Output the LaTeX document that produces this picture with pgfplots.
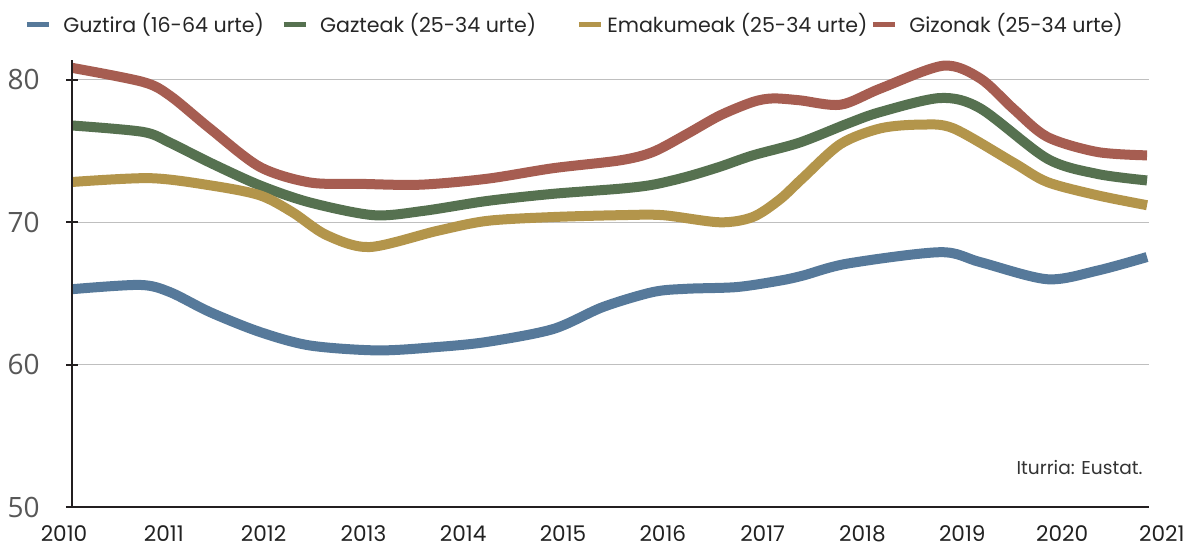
\documentclass[border=0pt]{standalone}
\usepackage{fontspec}
\setmainfont{Poppins}
\newfontfamily\osans{Open Sans}
\usepackage{pgfplots}
\pgfplotsset{compat=1.18}
\definecolor{cblue}{RGB}{86,121,154}
\definecolor{cgreen}{RGB}{86,113,80}
\definecolor{cgold}{RGB}{179,149,75}
\definecolor{cred}{RGB}{166,93,81}
\definecolor{axisc}{RGB}{35,31,32}
\begin{document}
\begin{tikzpicture}
\begin{axis}[
 at={(0,0)}, anchor=south west,
 scale only axis, width=549pt, height=223.5pt,
 xmin=2010, xmax=2021, ymin=50, ymax=81.4,
 axis line style={draw=none},
 major tick length=0pt,
 xtick={2010,...,2021}, ytick={50,60,70,80},
 /pgf/number format/assume math mode=true,
 /pgf/number format/1000 sep={},
 xticklabel style={font=\fontsize{10.8}{12}\selectfont, text=black!87, anchor=north, inner sep=0pt, yshift=-9pt},
 yticklabel style={font=\osans\fontsize{14}{16}\selectfont, text=black!66, anchor=east, inner sep=0pt, xshift=-12pt},
 clip=false,
 legend columns=4,
 legend style={draw=none, fill=none, at={(-0.0364,1.0805)}, anchor=west, inner sep=0pt,
   font=\fontsize{10.3}{12}\selectfont, text=black!85,
   nodes={inner xsep=0pt, inner ysep=1pt},
   /tikz/every odd column/.append style={column sep=6pt},
   /tikz/every even column/.append style={column sep=8.5pt}},
 legend image code/.code={\draw[line width=2.5pt] (0pt,0pt) -- (11pt,0pt);},
]
% grid lines
\addplot[forget plot, black!25, line width=0.5pt] coordinates {(2010.08,60) (2020.87,60)};
\addplot[forget plot, black!25, line width=0.5pt] coordinates {(2010.08,70) (2020.87,70)};
\addplot[forget plot, black!25, line width=0.5pt] coordinates {(2010.08,80) (2020.87,80)};

\addplot[cblue, line width=5pt, smooth] coordinates {
(2010.08,65.3) (2010.76,65.6) (2011.06,65.1) (2011.46,63.7) (2011.96,62.3)
(2012.46,61.35) (2013.14,61.0) (2013.74,61.24) (2014.24,61.6) (2014.90,62.5)
(2015.40,64.05) (2015.90,65.1) (2016.24,65.33) (2016.74,65.45) (2017.17,65.9)
(2017.40,66.25) (2017.85,67.1) (2018.78,67.9) (2019.18,67.2) (2019.85,66.0)
(2020.35,66.6) (2020.85,67.56)};
\addlegendentry{Guztira (16-64 urte)}

\addplot[cgreen, line width=5pt, smooth] coordinates {
(2010.08,76.8) (2010.79,76.35) (2011.06,75.6) (2011.46,74.2) (2011.96,72.6)
(2012.46,71.4) (2013.10,70.5) (2013.60,70.8) (2014.24,71.5) (2014.90,72.0)
(2015.57,72.36) (2015.90,72.64) (2016.24,73.2) (2016.57,73.9) (2016.90,74.7)
(2017.37,75.6) (2017.85,76.93) (2018.18,77.75) (2018.78,78.73) (2019.18,78.0)
(2019.85,74.47) (2020.35,73.4) (2020.85,72.94)};
\addlegendentry{Gazteak (25-34 urte)\hspace*{11.5pt}}

\addplot[cgold, line width=5pt, smooth] coordinates {
(2010.08,72.83) (2010.86,73.1) (2011.46,72.6) (2011.96,71.9) (2012.29,70.7)
(2012.63,69.1) (2013.06,68.26) (2013.74,69.4) (2014.24,70.1) (2014.90,70.37)
(2015.57,70.5) (2016.0,70.5) (2016.57,70.0) (2016.90,70.37) (2017.17,71.6)
(2017.40,73.1) (2017.78,75.5) (2018.18,76.6) (2018.58,76.86) (2018.91,76.6)
(2019.51,74.2) (2019.85,72.83) (2020.35,71.9) (2020.85,71.2)};
\addlegendentry{\hspace*{-4pt}Emakumeak (25-34 urte)\hspace*{-7pt}}

\addplot[cred, line width=5pt, smooth] coordinates {
(2010.08,80.85) (2010.79,79.86) (2011.06,78.9) (2011.46,76.6) (2011.96,73.9)
(2012.46,72.8) (2012.97,72.7) (2013.57,72.64) (2014.24,73.06) (2014.90,73.8)
(2015.57,74.35) (2015.90,74.94) (2016.24,76.2) (2016.57,77.5) (2016.90,78.45)
(2017.10,78.7) (2017.37,78.57) (2017.78,78.26) (2018.18,79.4) (2018.81,81.0)
(2019.18,80.1) (2019.51,77.98) (2019.85,76.0) (2020.35,74.94) (2020.85,74.7)};
\addlegendentry{Gizonak (25-34 urte)}

% axis lines and tick marks
\addplot[forget plot, axisc, line width=1pt] coordinates {(2010.08,50) (2010.08,81.4)};
\addplot[forget plot, axisc, line width=1pt] coordinates {(2010.02,50) (2020.87,50)};
\addplot[forget plot, axisc, line width=1pt, only marks, mark=-, mark size=3pt] coordinates {(2010.08,60) (2010.08,70) (2010.08,80)};

\node[anchor=east, inner sep=0pt, font=\fontsize{9.3}{11}\selectfont, text=black!80] at (axis cs:2020.81,52.74) {Iturria: Eustat.};
\end{axis}
\pgfresetboundingbox
\path[use as bounding box] (-32pt,-20pt) rectangle (567pt,253.5pt);
\end{tikzpicture}
\end{document}
